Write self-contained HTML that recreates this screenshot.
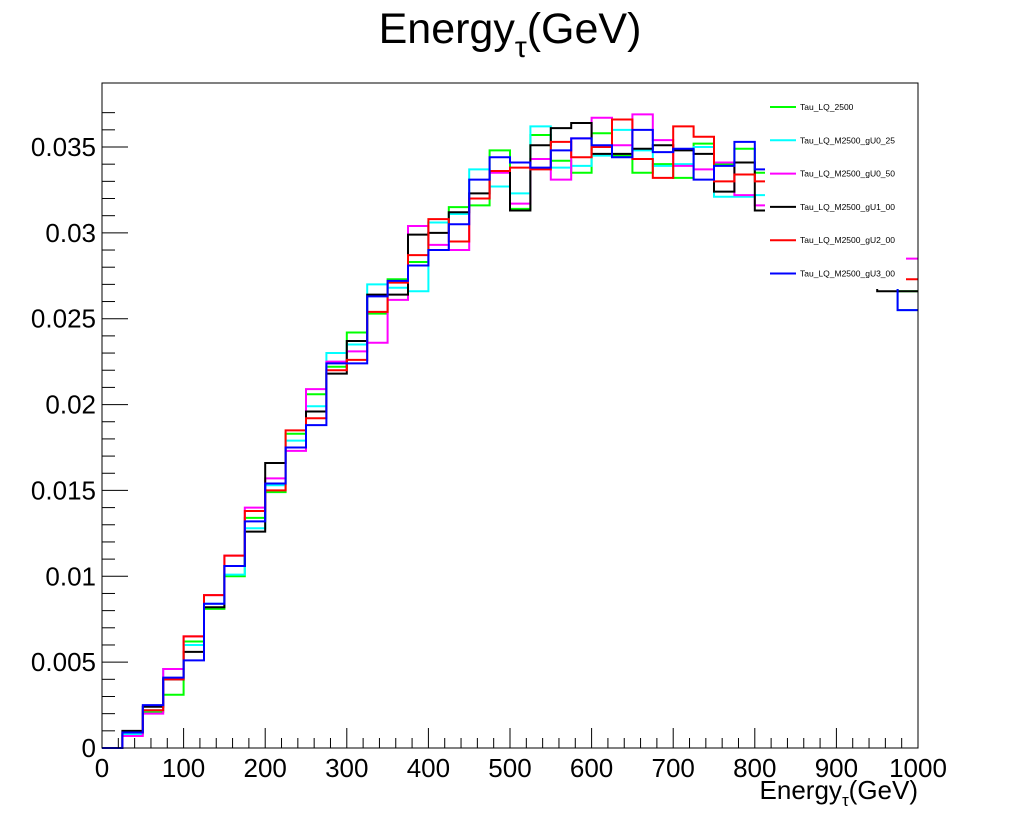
<!DOCTYPE html>
<html><head><meta charset="utf-8"><style>
body{margin:0;background:#fff;font-family:"Liberation Sans",sans-serif}
svg text{font-family:"Liberation Sans",sans-serif}
</style></head><body>
<svg id="chart" width="1020" height="832" xmlns="http://www.w3.org/2000/svg">
<rect width="1020" height="832" fill="#fff"/>
<text x="510" y="43" text-anchor="middle" font-size="43">Energy<tspan font-size="30" dy="14">τ</tspan><tspan dy="-14">(GeV)</tspan></text>
<g id="marks"></g>
<rect x="765" y="88" width="141" height="201" fill="#fff"/>
<g id="legend"></g>
<rect x="102" y="83" width="816" height="665" fill="none" stroke="#000" stroke-width="1"/>
<g id="axes"></g>
<text x="918" y="799" text-anchor="end" font-size="26">Energy<tspan font-size="17" dy="7">τ</tspan><tspan dy="-7">(GeV)</tspan></text>
</svg>
<script>
const binEdges = [0,25,50,75,100,125,150,175,200,225,250,275,300,325,350,375,400,425,450,475,500,525,550,575,600,625,650,675,700,725,750,775,800,825,850,875,900,925,950,975];
const seriesNames = ["Tau_LQ_2500","Tau_LQ_M2500_gU0_25","Tau_LQ_M2500_gU0_50","Tau_LQ_M2500_gU1_00","Tau_LQ_M2500_gU2_00","Tau_LQ_M2500_gU3_00"];
const seriesColors = ["#00ff00","#00ffff","#ff00ff","#000000","#ff0000","#0000ff"];
const green = [0,0.0008,0.0021,0.0031,0.0062,0.0081,0.0100,0.0134,0.0149,0.0183,0.0206,0.0222,0.0242,0.0253,0.0273,0.0283,0.0306,0.0315,0.0316,0.0348,0.0314,0.0357,0.0342,0.0335,0.0358,0.0345,0.0335,0.0340,0.0332,0.0352,0.0340,0.0349,0.0335,0.0325,0.0310,0.0300,0.0290,0.0285,0.0275,0.0266];
const cyan = [0,0.0008,0.0022,0.0046,0.0060,0.0084,0.0101,0.0128,0.0153,0.0179,0.0199,0.0230,0.0235,0.0270,0.0268,0.0266,0.0306,0.0311,0.0337,0.0327,0.0323,0.0362,0.0338,0.0339,0.0345,0.0360,0.0348,0.0339,0.0340,0.0350,0.0321,0.0321,0.0322,0.0310,0.0305,0.0300,0.0290,0.0285,0.0280,0.0255];
const magenta = [0,0.0007,0.0020,0.0046,0.0065,0.0089,0.0112,0.0140,0.0157,0.0173,0.0209,0.0225,0.0231,0.0236,0.0261,0.0304,0.0293,0.0290,0.0320,0.0335,0.0317,0.0343,0.0331,0.0355,0.0367,0.0351,0.0369,0.0354,0.0339,0.0337,0.0341,0.0322,0.0316,0.0310,0.0300,0.0295,0.0290,0.0285,0.0290,0.0285];
const black = [0,0.0010,0.0024,0.0040,0.0056,0.0082,0.0106,0.0126,0.0166,0.0175,0.0196,0.0218,0.0237,0.0264,0.0264,0.0299,0.0300,0.0312,0.0323,0.0336,0.0313,0.0351,0.0361,0.0364,0.0346,0.0346,0.0349,0.0351,0.0348,0.0346,0.0324,0.0341,0.0313,0.0310,0.0300,0.0295,0.0290,0.0285,0.0266,0.0266];
const red = [0,0.0009,0.0022,0.0040,0.0065,0.0089,0.0112,0.0138,0.0150,0.0185,0.0192,0.0220,0.0226,0.0254,0.0271,0.0287,0.0308,0.0295,0.0320,0.0336,0.0338,0.0337,0.0353,0.0344,0.0350,0.0366,0.0343,0.0332,0.0362,0.0356,0.0330,0.0334,0.0330,0.0310,0.0300,0.0295,0.0290,0.0285,0.0280,0.0273];
const blue = [0,0.0009,0.0025,0.0041,0.0051,0.0084,0.0106,0.0132,0.0154,0.0175,0.0188,0.0224,0.0224,0.0263,0.0272,0.0281,0.0290,0.0305,0.0331,0.0344,0.0341,0.0338,0.0348,0.0355,0.0351,0.0344,0.0360,0.0347,0.0349,0.0331,0.0339,0.0353,0.0337,0.0310,0.0300,0.0295,0.0290,0.0285,0.0270,0.0255];
const xTickLabels = ["0","100","200","300","400","500","600","700","800","900","1000"];
const yTickLabels = ["0","0.005","0.01","0.015","0.02","0.025","0.03","0.035"];
const allSeries = [green,cyan,magenta,black,red,blue];

const NS="http://www.w3.org/2000/svg";
const X0=102,X1=918,Y0=748,Y035=147;
function xs(v){return X0+(v/1000)*(X1-X0);}
function ys(v){return Y0-(v/0.035)*(Y0-Y035);}
const marks=document.getElementById('marks');
allSeries.forEach((vals,si)=>{
  let d="M"+xs(binEdges[0])+","+ys(vals[0]);
  for(let i=0;i<vals.length;i++){
    const xa=xs(binEdges[i]), xb=xs(binEdges[i]+25);
    d+=" L"+xa+","+ys(vals[i])+" L"+xb+","+ys(vals[i]);
  }
  const p=document.createElementNS(NS,'path');
  p.setAttribute('d',d);p.setAttribute('fill','none');
  p.setAttribute('stroke',seriesColors[si]);p.setAttribute('stroke-width','2');
  
  
  marks.appendChild(p);
});
const leg=document.getElementById('legend');
seriesNames.forEach((n,i)=>{
  const y=107+i*33.3;
  const l=document.createElementNS(NS,'line');
  l.setAttribute('x1',770);l.setAttribute('x2',796);l.setAttribute('y1',y);l.setAttribute('y2',y);
  l.setAttribute('stroke',seriesColors[i]);l.setAttribute('stroke-width','2');
  
  
  leg.appendChild(l);
  const t=document.createElementNS(NS,'text');
  t.setAttribute('x',800);t.setAttribute('y',y+3);t.setAttribute('font-size','8.5');
  t.textContent=n;
  
  
  leg.appendChild(t);
});
const ax=document.getElementById('axes');
function ln(x1,y1,x2,y2){const l=document.createElementNS(NS,'line');l.setAttribute('x1',x1);l.setAttribute('y1',y1);l.setAttribute('x2',x2);l.setAttribute('y2',y2);l.setAttribute('stroke','#000');l.setAttribute('stroke-width','1');


ax.appendChild(l);}
for(let v=0;v<=1000;v+=20){const x=xs(v);ln(x,Y0,x,Y0-(v%100===0?20:10));}
for(let k=0;k<=37;k++){const v=k*0.001;const y=ys(v);if(y<83)break;ln(X0,y,X0+(k%5===0?26:13),y);}
xTickLabels.forEach((s,i)=>{const t=document.createElementNS(NS,'text');t.setAttribute('x',xs(i*100));t.setAttribute('y',777);t.setAttribute('text-anchor','middle');t.setAttribute('font-size','26');t.textContent=s;


ax.appendChild(t);});
yTickLabels.forEach((s,i)=>{const t=document.createElementNS(NS,'text');t.setAttribute('x',96);t.setAttribute('y',ys(i*0.005)+9);t.setAttribute('text-anchor','end');t.setAttribute('font-size','26');t.textContent=s;


ax.appendChild(t);});
</script>
</body></html>
